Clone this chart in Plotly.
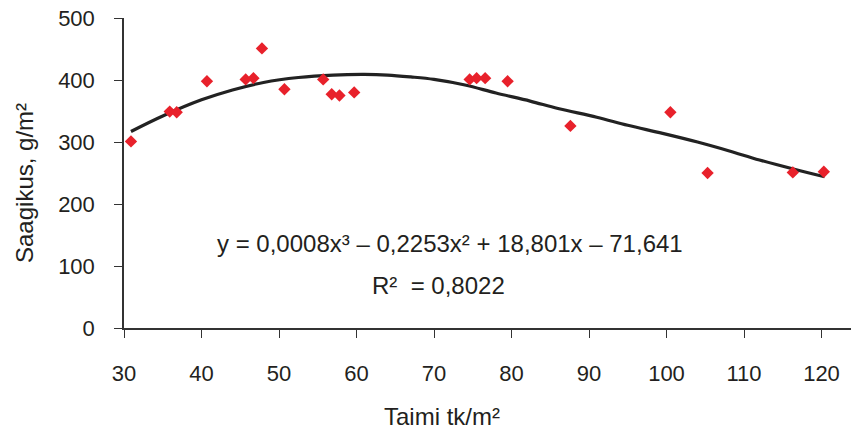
import plotly.graph_objects as go

# Observed data (plant density vs yield)
density = [30.9, 35.9, 36.8, 40.7, 45.7, 46.7, 47.8, 50.7, 55.7, 56.8, 57.8, 59.7,
           74.6, 75.5, 76.6, 79.5, 87.6, 100.5, 105.3, 116.3, 120.3]
yield_g = [301, 349, 348, 398, 401, 403, 451, 385, 401, 377, 375, 380,
           401, 403, 403, 398, 326, 348, 250, 251, 252]

# Trend line
trend_x = [30.9, 35, 40, 44, 48, 52.5, 57, 61, 64, 67, 70, 74, 78, 82.4, 86, 91,
           95, 99.5, 104, 108, 112, 116.5, 120.4]
trend_y = [317, 342, 368, 384, 396, 404, 408, 409, 408, 405, 401, 392, 379, 366, 354, 340,
           327, 314, 300, 286, 271, 256, 244]

x_ticks = [30, 40, 50, 60, 70, 80, 90, 100, 110, 120]
y_ticks = [0, 100, 200, 300, 400, 500]

equation = "y = 0,0008x³ – 0,2253x² + 18,801x – 71,641"
r2_text = "R²  = 0,8022"
x_title = "Taimi tk/m²"
y_title = "Saagikus, g/m²"

font_family = "Liberation Sans, Arial, sans-serif"
text_color = "#231F20"
FS = 22
FA = 24

# plot-area geometry (pixels)
L, R, T, B = 124, 851, 18, 328
W, H = R - L, B - T

def px(xp):
    return (xp - L) / W

def py(yp):
    return (B - yp) / H

fig = go.Figure()
fig.add_trace(go.Scatter(
    x=trend_x, y=trend_y, mode="lines",
    line=dict(color="#222222", width=3.2, shape="spline", smoothing=1.0),
    showlegend=False, hoverinfo="skip"))
fig.add_trace(go.Scatter(
    x=density, y=yield_g, mode="markers",
    marker=dict(symbol="diamond", size=9.5, color="#E8212B"),
    showlegend=False))

ann_font = dict(size=FA, color=text_color, family=font_family)
common = dict(xref="paper", yref="paper", showarrow=False, font=ann_font,
              xanchor="center", yanchor="middle")
fig.add_annotation(x=px(450), y=py(243), text=equation, **common)
fig.add_annotation(x=px(438), y=py(285), text=r2_text, **common)
fig.add_annotation(x=px(442), y=py(416), text=x_title, **common)
fig.add_annotation(x=px(24), y=py(183), text=y_title, textangle=-90, **common)

fig.update_layout(
    width=851, height=429,
    margin=dict(l=L, r=851 - R, t=T, b=429 - B, autoexpand=False),
    paper_bgcolor="white", plot_bgcolor="white",
    font=dict(family=font_family, size=FS, color=text_color),
)

fig.update_xaxes(
    range=[30, 30 + (R - L) / 7.75], tickvals=x_ticks, ticktext=[str(v) for v in x_ticks],
    showline=True, linecolor="#333333", linewidth=1.5,
    ticks="outside", ticklen=8, tickcolor="#333333", tickwidth=1.2,
    ticklabelstandoff=17, showgrid=False, zeroline=False, automargin=False,
)
fig.update_yaxes(
    range=[0, 500], tickvals=y_ticks,
    showline=True, linecolor="#333333", linewidth=1.5,
    ticks="outside", ticklen=8, tickcolor="#333333", tickwidth=1.2,
    ticklabelstandoff=15, showgrid=False, zeroline=False, automargin=False,
)

fig.write_html(
    "out.html",
    config={"displayModeBar": False},
    post_script="document.body.style.margin='0';document.body.style.overflow='hidden';",
)
